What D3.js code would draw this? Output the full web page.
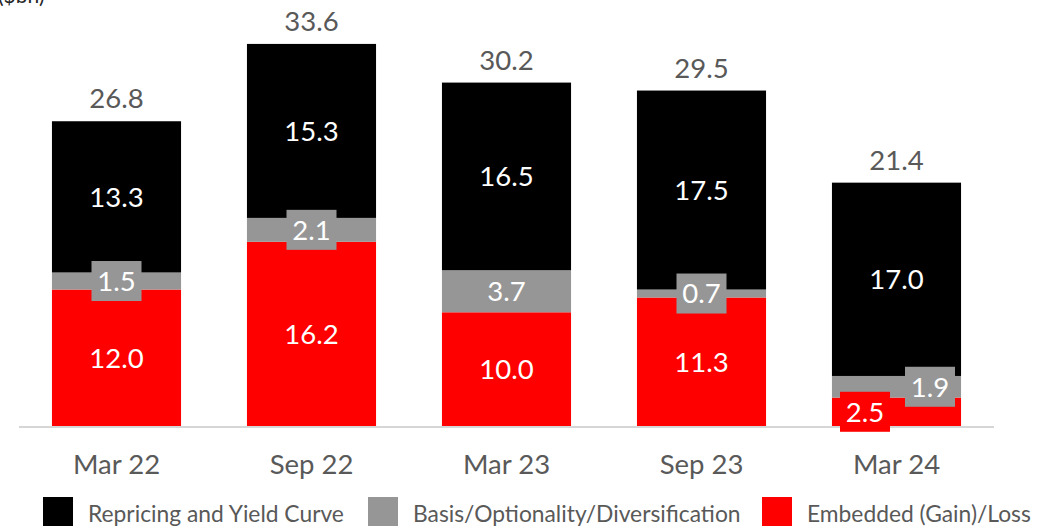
<!DOCTYPE html>
<html>
<head>
<meta charset="utf-8">
<script src="https://cdn.jsdelivr.net/npm/d3@7"></script>
<style>
  html, body { margin: 0; padding: 0; background: #fff; }
  svg { display: block; font-family: "Lato", "Open Sans", sans-serif; }
</style>
</head>
<body>
<svg id="chart" width="1051" height="526"></svg>
<script>
// Interest rate risk components by reporting date ($bn)
const periods = ["Mar 22", "Sep 22", "Mar 23", "Sep 23", "Mar 24"];
const embedded = [12.0, 16.2, 10.0, 11.3, 2.5];   // Embedded (Gain)/Loss
const basis = [1.5, 2.1, 3.7, 0.7, 1.9];          // Basis/Optionality/Diversification
const repricing = [13.3, 15.3, 16.5, 17.5, 17.0]; // Repricing and Yield Curve
const totals = [26.8, 33.6, 30.2, 29.5, 21.4];

const seriesNames = ["Repricing and Yield Curve", "Basis/Optionality/Diversification", "Embedded (Gain)/Loss"];
const seriesKeys = ["embedded", "basis", "repricing"];
const colors = { repricing: "#000000", basis: "#969696", embedded: "#ff0000" };
const legendKeys = ["repricing", "basis", "embedded"];

const rows = periods.map((p, i) => ({
  period: p, embedded: embedded[i], basis: basis[i], repricing: repricing[i], total: totals[i]
}));

const svg = d3.select("#chart");
const textGrey = "#595959";

const x = d3.scaleBand().domain(periods).range([19, 994]).paddingInner(0.338).paddingOuter(0.169);
const y = d3.scaleLinear().domain([0, 35]).range([426, 28]);

const stack = d3.stack().keys(seriesKeys);
const layers = stack(rows);

// unit label
svg.append("text").attr("x", -2).attr("y", 3)
  .attr("font-size", 21).attr("fill", "#262626").text("($bn)");

// stacked bars
const g = svg.append("g");
layers.forEach(layer => {
  g.selectAll(null).data(layer).join("rect")
    .attr("x", d => x(d.data.period))
    .attr("width", x.bandwidth())
    .attr("y", d => y(d[1]))
    .attr("height", d => y(d[0]) - y(d[1]))
    .attr("fill", colors[layer.key]);
});

// baseline
svg.append("line").attr("x1", 19).attr("x2", 994).attr("y1", 427).attr("y2", 427)
  .attr("stroke", "#c8c8c8").attr("stroke-width", 1.5);

// segment labels
const fs = 27.5;
layers.forEach(layer => {
  const key = layer.key;
  layer.forEach((d, i) => {
    const cx = x(d.data.period) + x.bandwidth() / 2;
    const cy = (y(d[0]) + y(d[1])) / 2;
    // when both lower segments are thin, push their labels apart sideways
    const crowded = rows[i].embedded < 3 && rows[i].basis < 3;
    let dx = 0;
    if (crowded && key === "embedded") dx = -31.5;
    if (crowded && key === "basis") dx = 33.5;
    const val = d.data[key].toFixed(1);
    if (key !== "repricing") {
      svg.append("rect")
        .attr("x", cx + dx - 25).attr("y", cy - 20)
        .attr("width", 50).attr("height", 40)
        .attr("fill", colors[key]);
    }
    svg.append("text")
      .attr("x", cx + dx).attr("y", cy)
      .attr("dy", "0.36em")
      .attr("text-anchor", "middle")
      .attr("font-size", fs).attr("fill", "#ffffff")
      .text(val);
  });
});

// totals above bars
svg.selectAll(".total").data(rows).join("text")
  .attr("class", "total")
  .attr("x", d => x(d.period) + x.bandwidth() / 2)
  .attr("y", d => y(d.total) - 13)
  .attr("text-anchor", "middle")
  .attr("font-size", fs).attr("fill", textGrey)
  .text(d => d.total.toFixed(1));

// category axis
const xAxis = svg.append("g").attr("transform", "translate(0,427)")
  .call(d3.axisBottom(x).tickSize(0).tickPadding(0));
xAxis.select(".domain").remove();
xAxis.selectAll("text")
  .attr("y", 47).attr("dy", 0)
  .attr("font-size", fs).attr("fill", textGrey)
  .attr("font-family", "Lato, 'Open Sans', sans-serif");

// legend
const legendX = [43, 368, 762];
const legend = svg.append("g");
legendKeys.forEach((k, i) => {
  legend.append("rect").attr("x", legendX[i]).attr("y", 497)
    .attr("width", 30).attr("height", 29).attr("fill", colors[k]);
  legend.append("text").attr("x", legendX[i] + 45).attr("y", 522)
    .attr("font-size", 22.8).attr("fill", textGrey)
    .text(seriesNames[legendKeys.indexOf(k)]);
});
</script>
</body>
</html>
